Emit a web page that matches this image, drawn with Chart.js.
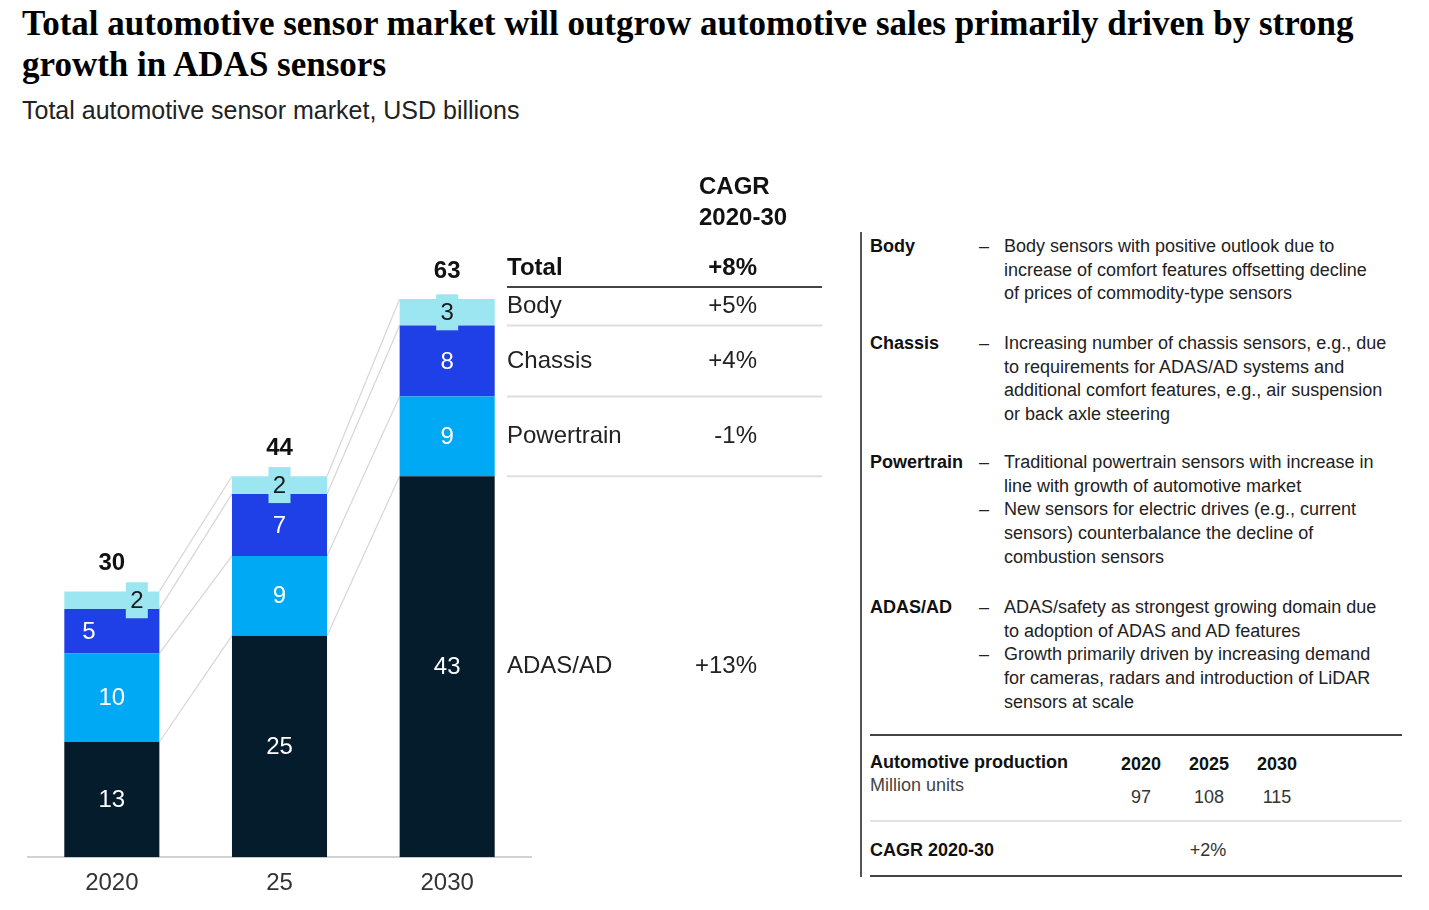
<!DOCTYPE html>
<html>
<head>
<meta charset="utf-8">
<script src="https://cdn.jsdelivr.net/npm/chart.js@4.4.1/dist/chart.umd.min.js"></script>
<style>
  body { margin: 0; width: 1429px; height: 910px; background: #fff; position: relative; overflow: hidden;
         font-family: "Liberation Sans", Arial, sans-serif; color: #222; }
  .abs { position: absolute; white-space: nowrap; }
  #title { left: 22px; top: 3px; font-family: "Liberation Serif", serif; font-weight: bold; font-size: 35px; line-height: 41px; color: #000; }
  #subtitle { left: 22px; top: 96px; font-size: 25px; color: #222; }
  #chartbox { position: absolute; left: 0; top: 0; width: 860px; height: 910px; }
  #vline { position: absolute; left: 860px; top: 232px; width: 2px; height: 645px; background: #555; }
  .note { font-size: 18px; line-height: 23.7px; }
  .b { font-weight: bold; color: #111; }
  .hl { position: absolute; left: 870px; width: 532px; }
</style>
</head>
<body>
<div id="title" class="abs">Total automotive sensor market will outgrow automotive sales primarily driven by strong<br>growth in ADAS sensors</div>
<div id="subtitle" class="abs">Total automotive sensor market, USD billions</div>
<div id="chartbox"><canvas id="chart"></canvas></div>
<div id="vline"></div>
<div id="notes"></div>
<div id="prod"></div>
<script>
// chart values
const years = ['2020', '25', '2030'];
const adas = [13, 25, 43];
const powertrain = [10, 9, 9];
const chassis = [5, 7, 8];
const body = [2, 2, 3];
const totals = [30, 44, 63];
const segments = ['ADAS/AD', 'Powertrain', 'Chassis', 'Body'];
const segmentCagr = ['+13%', '-1%', '+4%', '+5%'];
const totalCagr = '+8%';

// right panel
const noteNames = ['Body', 'Chassis', 'Powertrain', 'ADAS/AD'];
const bodyNotes = [['Body sensors with positive outlook due to', 'increase of comfort features offsetting decline', 'of prices of commodity-type sensors']];
const chassisNotes = [['Increasing number of chassis sensors, e.g., due', 'to requirements for ADAS/AD systems and', 'additional comfort features, e.g., air suspension', 'or back axle steering']];
const powertrainNotes = [['Traditional powertrain sensors with increase in', 'line with growth of automotive market'],
                         ['New sensors for electric drives (e.g., current', 'sensors) counterbalance the decline of', 'combustion sensors']];
const adasNotes = [['ADAS/safety as strongest growing domain due', 'to adoption of ADAS and AD features'],
                   ['Growth primarily driven by increasing demand', 'for cameras, radars and introduction of LiDAR', 'sensors at scale']];
const prodYears = ['2020', '2025', '2030'];
const prodUnits = [97, 108, 115];
const prodCagr = '+2%';

var clr = ['#051C2C', '#00A9F4', '#1F40E6', '#9BE6F0'];
var sans = '"Liberation Sans", Arial, sans-serif';

// notes block
var noteTops = [235, 332, 451, 596];
var html = '';
[bodyNotes, chassisNotes, powertrainNotes, adasNotes].forEach(function(sec, s) {
  html += '<div class="abs note b" style="left:870px;top:' + noteTops[s] + 'px">' + noteNames[s] + '</div>';
  var line = 0;
  sec.forEach(function(bullet) {
    html += '<div class="abs note" style="left:979px;top:' + (noteTops[s] + line * 23.7) + 'px">&ndash;</div>';
    bullet.forEach(function(t) {
      html += '<div class="abs note" style="left:1004px;top:' + (noteTops[s] + line * 23.7) + 'px">' + t + '</div>';
      line++;
    });
  });
});
document.getElementById('notes').innerHTML = html;

var yearX = [1141, 1209, 1277];
var p = '';
p += '<div class="hl" style="top:734px;height:2px;background:#444"></div>';
p += '<div class="abs note b" style="left:870px;top:751px">Automotive production</div>';
p += '<div class="abs note" style="left:870px;top:774px;color:#444">Million units</div>';
prodYears.forEach(function(y, i) {
  p += '<div class="abs note b" style="left:' + (yearX[i] - 40) + 'px;width:80px;text-align:center;top:753px">' + y + '</div>';
  p += '<div class="abs note" style="left:' + (yearX[i] - 40) + 'px;width:80px;text-align:center;top:786px;color:#333">' + prodUnits[i] + '</div>';
});
p += '<div class="hl" style="top:820px;height:2px;background:#e2e2e2"></div>';
p += '<div class="abs note b" style="left:870px;top:839px">CAGR 2020-30</div>';
p += '<div class="abs note" style="left:1168px;width:80px;text-align:center;top:839px;color:#333">' + prodCagr + '</div>';
p += '<div class="hl" style="top:875px;height:2px;background:#444"></div>';
document.getElementById('prod').innerHTML = p;

var barExtras = {
  id: 'barExtras',
  beforeDatasetsDraw: function(chart) {
    var ctx = chart.ctx;
    ctx.save();
    ctx.strokeStyle = '#d6d6d6';
    ctx.lineWidth = 1.2;
    chart.data.datasets.forEach(function(ds, d) {
      var bars = chart.getDatasetMeta(d).data;
      for (var i = 0; i < bars.length - 1; i++) {
        var a = bars[i], b = bars[i + 1];
        ctx.beginPath();
        ctx.moveTo(a.x + a.width / 2, a.y);
        ctx.lineTo(b.x - b.width / 2, b.y);
        ctx.stroke();
      }
    });
    ctx.restore();
  },
  afterDatasetsDraw: function(chart) {
    var ctx = chart.ctx;
    ctx.save();
    ctx.textAlign = 'center';
    ctx.textBaseline = 'middle';
    ctx.font = '24px ' + sans;
    chart.data.datasets.forEach(function(ds, d) {
      var bars = chart.getDatasetMeta(d).data;
      bars.forEach(function(bar, i) {
        var cx = bar.x, cy = (bar.y + bar.base) / 2;
        if (d == 3) {
          if (i == 0) cx += 25;
          ctx.fillStyle = clr[3];
          ctx.fillRect(cx - 11, cy - 18, 22, 36);
          ctx.fillStyle = '#1a1a1a';
        } else {
          if (d == 2 && i == 0) cx -= 23;
          ctx.fillStyle = '#fff';
        }
        ctx.fillText(ds.data[i], cx, cy + 1);
      });
    });

    // totals above bars
    var tops = chart.getDatasetMeta(3).data;
    ctx.font = 'bold 24px ' + sans;
    ctx.fillStyle = '#111';
    tops.forEach(function(bar, i) {
      ctx.fillText(totals[i], bar.x, bar.y - 28);
    });

    // CAGR table next to last bar
    var last = tops.length - 1;
    var x0 = 507, x1 = 822, xr = 757;
    ctx.font = 'bold 24px ' + sans;
    ctx.textAlign = 'left';
    ctx.fillText('CAGR', 699, 187);
    ctx.fillText('2020-30', 699, 218);
    var dark = tops[last].y - 12;
    ctx.fillText('Total', x0, dark - 19);
    ctx.textAlign = 'right';
    ctx.fillText(totalCagr, xr, dark - 19);
    ctx.strokeStyle = '#444';
    ctx.lineWidth = 2;
    ctx.beginPath();
    ctx.moveTo(x0, dark);
    ctx.lineTo(x1, dark);
    ctx.stroke();

    ctx.font = '24px ' + sans;
    ctx.fillStyle = '#222';
    ctx.strokeStyle = '#dedede';
    segments.forEach(function(name, d) {
      var bar = chart.getDatasetMeta(d).data[last];
      var cy = (bar.y + bar.base) / 2;
      if (d == 3) cy -= 6;
      ctx.textAlign = 'left';
      ctx.fillText(name, x0, cy);
      ctx.textAlign = 'right';
      ctx.fillText(segmentCagr[d], xr, cy);
      if (d < 3) {
        ctx.beginPath();
        ctx.moveTo(x0, bar.y);
        ctx.lineTo(x1, bar.y);
        ctx.stroke();
      }
    });
    ctx.restore();
  }
};

var series = [adas, powertrain, chassis, body];
new Chart(document.getElementById('chart'), {
  type: 'bar',
  data: {
    labels: years,
    datasets: series.map(function(vals, d) {
      return {
        label: segments[d],
        data: vals,
        backgroundColor: clr[d],
        borderWidth: 0,
        barPercentage: 1,
        categoryPercentage: 0.567
      };
    })
  },
  options: {
    responsive: true,
    maintainAspectRatio: false,
    animation: false,
    layout: {
      padding: { left: 28, right: 329, top: 237, bottom: 0 }
    },
    scales: {
      x: {
        stacked: true,
        grid: { display: false, drawTicks: false },
        border: { display: true, color: '#d2d2d2', width: 2 },
        ticks: {
          padding: 12,
          color: '#333',
          font: { size: 24, family: sans }
        }
      },
      y: {
        stacked: true,
        display: false,
        min: 0,
        max: 70
      }
    },
    plugins: {
      legend: { display: false },
      tooltip: { enabled: false }
    }
  },
  plugins: [barExtras]
});
</script>
</body>
</html>
